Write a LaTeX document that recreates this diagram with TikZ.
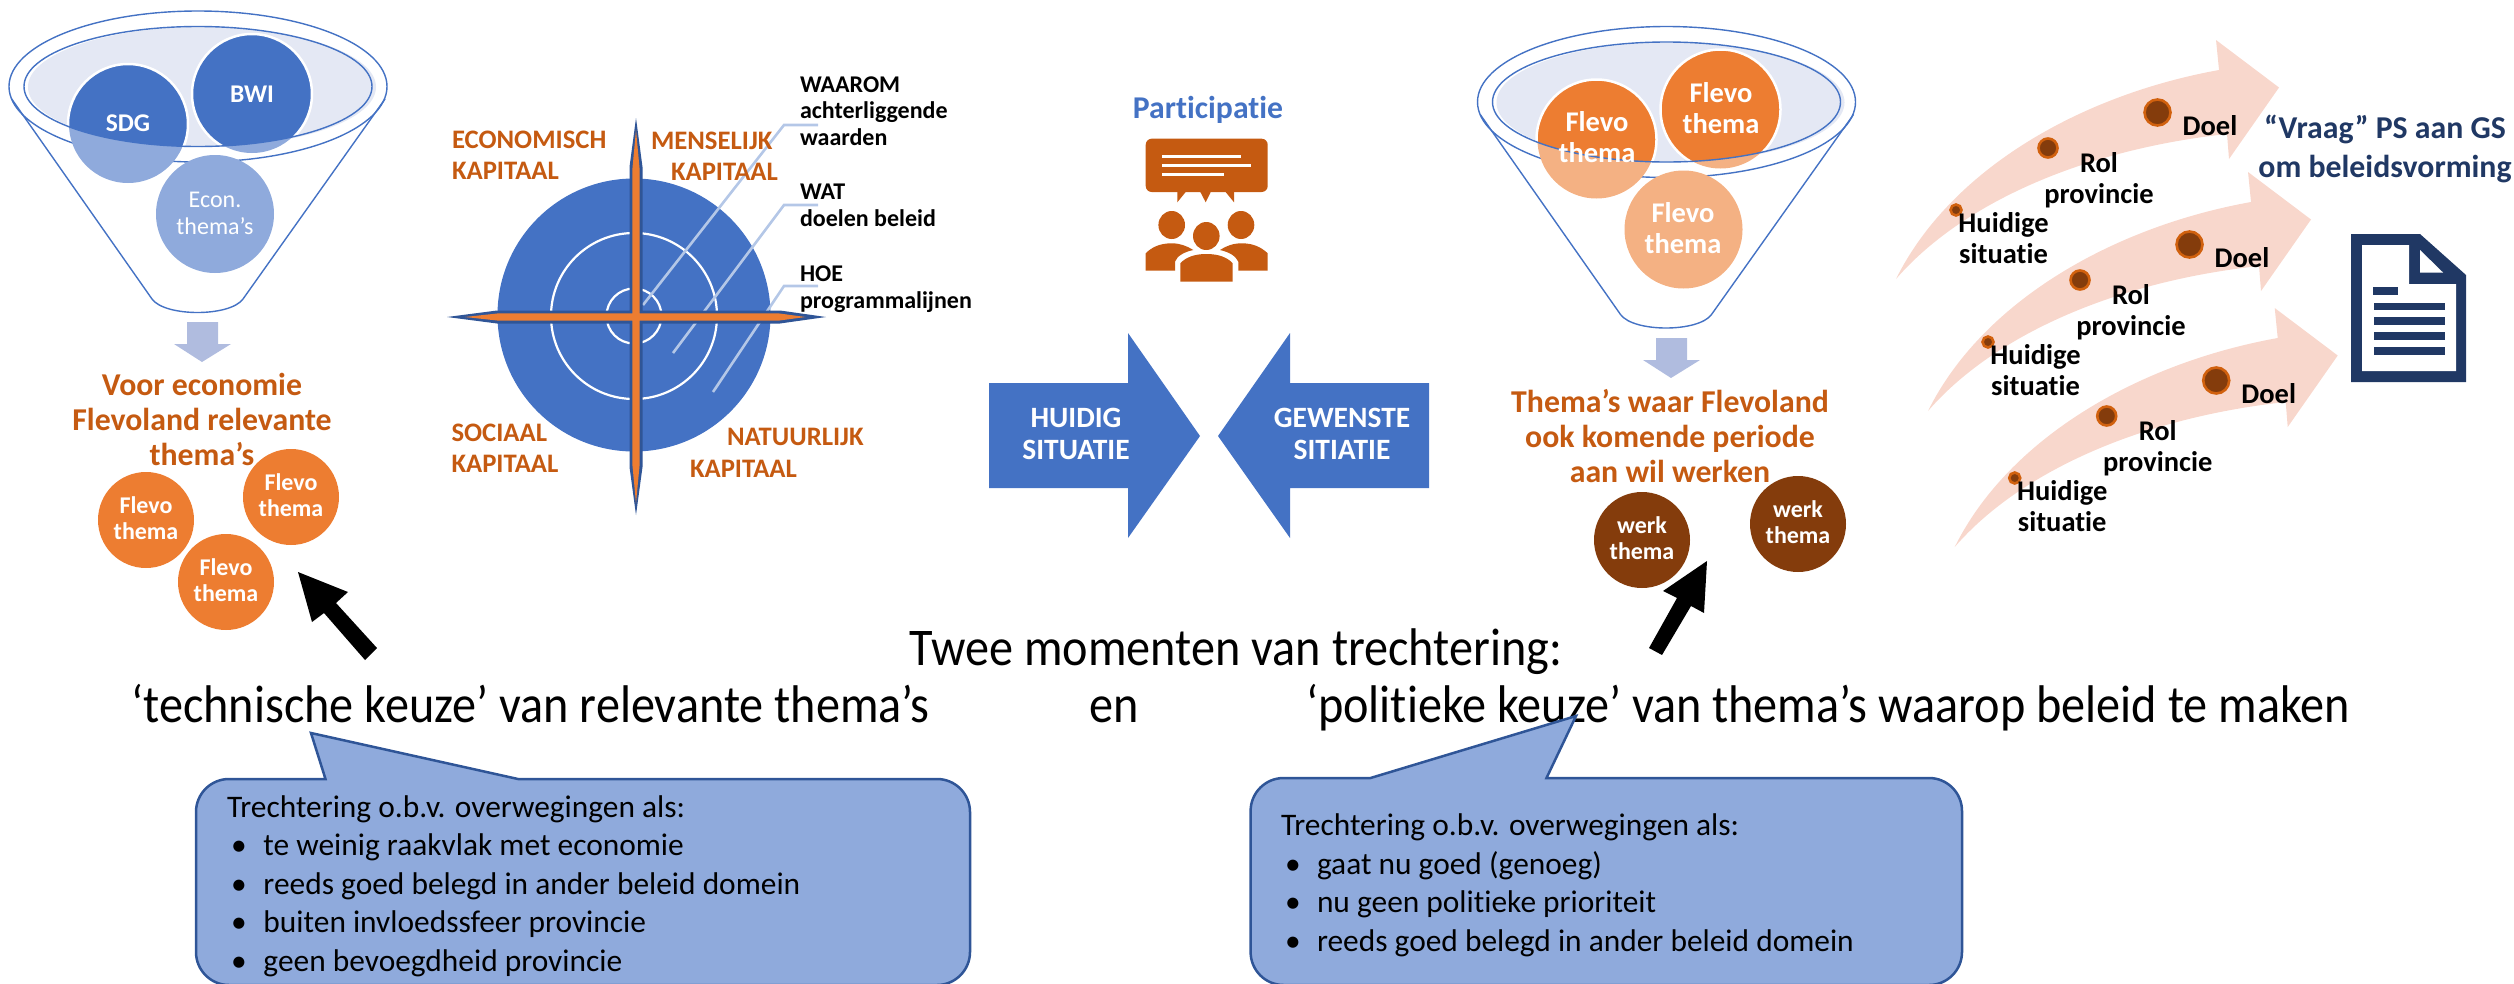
\documentclass[tikz,border=0pt]{standalone}
\usepackage{fontspec}
\setmainfont[Ligatures=CommonOff]{Carlito}
\newfontfamily\narrowfont[Ligatures=CommonOff,FakeStretch=0.91]{Carlito}
\definecolor{mblue}{HTML}{4472C4}
\definecolor{lblue}{HTML}{8FAADC}
\definecolor{pale}{HTML}{E4E8F4}
\definecolor{darrow}{HTML}{B0BCDF}
\definecolor{mor}{HTML}{ED7D31}
\definecolor{lor}{HTML}{F4B183}
\definecolor{rust}{HTML}{C55A11}
\definecolor{brown}{HTML}{843C0C}
\definecolor{edge}{HTML}{2F5597}
\definecolor{navy}{HTML}{203864}
\definecolor{lead}{HTML}{B4C7E7}
\definecolor{swoosh}{HTML}{F8D7CC}
\newcommand\fs[2]{\fontsize{#1pt}{#2pt}\selectfont}
\tikzset{
 txt/.style={inner sep=0pt,outer sep=0pt,anchor=base,align=center},
 ltxt/.style={inner sep=0pt,outer sep=0pt,anchor=base west,align=left},
 themalbl/.style={txt,text=white,font=\bfseries\fs{24}{25.5}},
 bigthema/.style={txt,text=white,font=\bfseries\fs{28.5}{31}},
 headlbl/.style={txt,text=rust,font=\bfseries\fs{31.8}{35}},
 caplbl/.style={ltxt,text=rust,font=\bfseries\fs{26.7}{31}},
 whylbl/.style={ltxt,font=\bfseries\fs{24}{26.5}},
 swlbl/.style={txt,font=\bfseries\fs{28.5}{31}},
 arrlbl/.style={txt,text=white,font=\bfseries\fs{29.5}{32}},
 biglbl/.style={txt,font=\narrowfont\fs{53}{60}},
 listlbl/.style={ltxt,font=\fs{31.4}{38.5}},
 orb/.style={circle,inner sep=0pt,minimum size=96pt},
 funnelline/.style={draw=mblue,line width=1.4pt},
 callout/.style={fill=lblue,draw=edge,line width=2.5pt},
 leadline/.style={draw=lead,line width=2.6pt},
 dot/.style={circle,inner sep=0pt,fill=brown,draw=rust!80!orange,line width=2.6pt}
}
\newcommand\funnelbody{%
  \draw[funnelline,fill=white] (198,86.5) ellipse [x radius=189pt,y radius=75.5pt];
  \draw[funnelline] (11.7,99) -- (152,299) .. controls (165,317) and (230,317) .. (243,299) -- (385,99);
  \fill[pale] (202,87) ellipse [x radius=174pt,y radius=60pt];
}
\newcommand\funnelrim{%
  \draw[funnelline] (198,86.5) ellipse [x radius=174pt,y radius=60pt];
}
\newcommand\balls[2]{%
  \fill[#2] (128,124) circle [radius=59pt];
  \fill[#2] (252,94) circle [radius=59pt];
  \fill[#2] (215,214) circle [radius=59pt];
  \begin{scope}
    \clip (198,86.5) ellipse [x radius=174pt,y radius=60pt];
    \fill[#1,draw=white,line width=2.5pt] (128,124) circle [radius=60pt];
    \fill[#1,draw=white,line width=2.5pt] (252,94) circle [radius=60pt];
  \end{scope}
}
\newcommand\swooshshape{%
  \fill[swoosh] (1896,279) .. controls (1950,170) and (2080,95) .. (2219,70)
     -- (2216,40) -- (2279,87.5) -- (2229,159) -- (2227,134)
     .. controls (2080,150) and (1960,205) .. (1896,279) -- cycle;
}
\newcommand\swooshitems[1]{%
  \node[dot,minimum size=26pt] (doel#1) at (2157.5,112.5) {};
  \node[dot,minimum size=19pt] (rol#1) at (2048,148) {};
  \node[dot,minimum size=11pt] (huid#1) at (1956,210) {};
  \node[swlbl] (doeltxt#1) at (2210,135) {Doel};
  \node[swlbl] (roltxt#1) at (2099,203) {Rol\\provincie};
  \node[swlbl] (huidtxt#1) at (2003.5,263.5) {Huidige\\situatie};
}
\begin{document}
\begin{tikzpicture}[x=1pt,y=-1pt]
\useasboundingbox (0,0) rectangle (2514,983);
% ---------- left funnel
\funnelbody
\balls{mblue}{lblue}
\funnelrim
\node[txt,text=white,font=\bfseries\fs{25.5}{28}] (sdg) at (128,131) {SDG};
\node[txt,text=white,font=\bfseries\fs{25.5}{28}] (bwi) at (252,102) {BWI};
\node[txt,text=white,font=\fs{24}{27}] (econ) at (215,234) {Econ.\\thema’s};
\fill[darrow] (187,322) -- (218,322) -- (218,344) -- (231,344) -- (202,362) -- (174,344) -- (187,344) -- cycle;
\node[headlbl] (kop1) at (202,465) {Voor economie\\Flevoland relevante\\thema’s};
\node[orb,fill=mor] (f1) at (146,520) {};
\node[orb,fill=mor] (f2) at (291,497) {};
\node[orb,fill=mor] (f3) at (226,582) {};
\node[themalbl] at (146,539) {Flevo\\thema};
\node[themalbl] at (291,516) {Flevo\\thema};
\node[themalbl] at (226,601) {Flevo\\thema};
\fill[black] (298,572) -- (348,592) -- (336,603) -- (377,648) -- (365,660) -- (324,613) -- (312,622) -- cycle;
% ---------- capitals
\fill[mblue] (634,315) circle [radius=136.5pt];
\draw[white,line width=2.2pt] (634,316) circle [radius=83pt];
\draw[white,line width=2.2pt] (634,316) circle [radius=27.5pt];
\draw[leadline] (818,125) -- (784,125) -- (643,305);
\draw[leadline] (818,205) -- (784,205) -- (673,353);
\draw[leadline] (818,286) -- (784,286) -- (713,392);
\fill[edge] (636,118) -- (642.5,167) -- (642.5,310.5) -- (780,310.5) -- (826,317) -- (780,323.5) -- (642.5,323.5) -- (642.5,467) -- (636,515) -- (629.5,467) -- (629.5,323.5) -- (497,323.5) -- (447,317) -- (497,310.5) -- (629.5,310.5) -- (629.5,167) -- cycle;
\fill[mor] (636,130) -- (639.7,170) -- (639.7,313.3) -- (778,313.3) -- (805.5,317) -- (778,320.7) -- (639.7,320.7) -- (639.7,464) -- (636,503) -- (632.3,464) -- (632.3,320.7) -- (499,320.7) -- (465,317) -- (499,313.3) -- (632.3,313.3) -- (632.3,170) -- cycle;
\node[caplbl] (ek) at (452,179) {ECONOMISCH\\KAPITAAL};
\node[caplbl] (mk1) at (651,149) {MENSELIJK};
\node[caplbl] (mk2) at (671,180) {KAPITAAL};
\node[caplbl] (sk) at (451.5,472) {SOCIAAL\\KAPITAAL};
\node[caplbl] (nk1) at (727,445) {NATUURLIJK};
\node[caplbl] (nk2) at (690,477) {KAPITAAL};
\node[whylbl] (waarom) at (800,145) {WAAROM\\achterliggende\\waarden};
\node[whylbl] (wat) at (800,226) {WAT\\doelen beleid};
\node[whylbl] (hoe) at (800,308) {HOE\\programmalijnen};
% ---------- participatie
\node[txt,text=mblue,font=\bfseries\fs{31.7}{36}] (part) at (1208,118) {Participatie};
\fill[rust,rounded corners=6pt] (1145.7,138.7) rectangle (1267.7,192);
\fill[rust] (1177.3,190) -- (1177.3,202.3) -- (1187.3,190) -- cycle;
\fill[rust] (1199.3,190) -- (1205.7,202.3) -- (1211.7,190) -- cycle;
\fill[rust] (1224,190) -- (1234,202.3) -- (1234,190) -- cycle;
\fill[white] (1162.3,154.7) rectangle (1241,158.3);
\fill[white] (1162.3,163.7) rectangle (1251,167.3);
\fill[white] (1162.3,172.7) rectangle (1224,176);
\fill[rust] (1171.7,225) ellipse [x radius=13.3pt,y radius=14pt];
\fill[rust] (1241,225) ellipse [x radius=13.3pt,y radius=14pt];
\fill[rust] (1206.3,236) ellipse [x radius=13.3pt,y radius=14pt];
\fill[rust] (1145.7,270.7) -- (1145.7,253.3) .. controls (1152,247) and (1160,243.3) .. (1171.7,243.3) .. controls (1180,243.3) and (1187,246) .. (1193.3,250) .. controls (1184,252) and (1177,256) .. (1175,261.7) -- (1175,270.7) -- cycle;
\fill[rust] (1267.7,270.7) -- (1267.7,253.3) .. controls (1261,247) and (1253,243.3) .. (1241.7,243.3) .. controls (1233,243.3) and (1226,246) .. (1220,250) .. controls (1229,252) and (1236,256) .. (1238.3,261.7) -- (1238.3,270.7) -- cycle;
\fill[rust] (1180.3,281.7) -- (1180.3,263.3) .. controls (1186,257) and (1195,254) .. (1206.3,254) .. controls (1218,254) and (1227,257) .. (1232.7,263.3) -- (1232.7,281.7) -- cycle;
% ---------- block arrows
\fill[mblue] (989,383) -- (1128,383) -- (1128,333) -- (1200,436) -- (1128,538) -- (1128,488) -- (989,488) -- cycle;
\fill[mblue] (1429,383) -- (1290,383) -- (1290,333) -- (1218,436) -- (1290,538) -- (1290,488) -- (1429,488) -- cycle;
\node[arrlbl] (hs) at (1076,459) {HUIDIG\\SITUATIE};
\node[arrlbl] (gs) at (1342,459) {GEWENSTE\\SITIATIE};
% ---------- right funnel
\begin{scope}[shift={(1468.5,15.5)}]
\funnelbody
\balls{mor}{lor}
\funnelrim
\end{scope}
\node[bigthema] (t1) at (1597,162) {Flevo\\thema};
\node[bigthema] (t2) at (1721,133) {Flevo\\thema};
\node[bigthema] (t3) at (1683,253) {Flevo\\thema};
\fill[darrow] (1656,338) -- (1687,338) -- (1687,360) -- (1700,360) -- (1671,378) -- (1643,360) -- (1656,360) -- cycle;
\node[headlbl] (kop2) at (1670,482) {Thema’s waar Flevoland\\ook komende periode\\aan wil werken};
\node[orb,fill=brown] (w1) at (1642,540) {};
\node[orb,fill=brown] (w2) at (1798,524) {};
\node[themalbl] at (1642,559) {werk\\thema};
\node[themalbl] at (1798,543) {werk\\thema};
\fill[black] (1707,561) -- (1704,613) -- (1691,606) -- (1662,655) -- (1649,648) -- (1677,598) -- (1663,591) -- cycle;
% ---------- swooshes
\swooshshape
\begin{scope}[shift={(32,132)}]\swooshshape\end{scope}
\begin{scope}[shift={(58.7,268)}]\swooshshape\end{scope}
\swooshitems{a}
\begin{scope}[shift={(32,132)}]\swooshitems{b}\end{scope}
\begin{scope}[shift={(58.7,268)}]\swooshitems{c}\end{scope}
\node[txt,text=navy,font=\bfseries\fs{31.8}{39}] (vraag) at (2385,177.5) {“Vraag” PS aan GS\\om beleidsvorming};
% ---------- document icon
\fill[navy] (2351,234) -- (2420,234) -- (2466,275) -- (2466,382) -- (2351,382) -- cycle;
\fill[white] (2362,245) -- (2409,245) -- (2409,284) -- (2456,284) -- (2456,371) -- (2362,371) -- cycle;
\fill[white] (2420,250) -- (2443,272.5) -- (2420,272.5) -- cycle;
\fill[navy] (2373,287) rectangle (2398,295);
\fill[navy] (2374,302.5) rectangle (2445,310);
\fill[navy] (2374,317) rectangle (2445,325);
\fill[navy] (2374,332) rectangle (2445,340);
\fill[navy] (2374,347) rectangle (2445,355);
% ---------- captions
\node[biglbl] (twee) at (1236,665) {Twee momenten van trechtering:};
\node[biglbl,anchor=base west] (tech) at (131.5,722) {‘technische keuze’ van relevante thema’s};
\node[biglbl] (en) at (1114,722) {en};
\node[biglbl,anchor=base west] (pol) at (1306,722) {‘politieke keuze’ van thema’s waarop beleid te maken};
% ---------- callouts
\draw[callout] (325.5,779) -- (311,733) -- (518,779) [rounded corners=33pt] -- (970,779) -- (970,985) -- (196,985) -- (196,779) [sharp corners] -- cycle;
\node[listlbl] (lijst1) at (227,971) {Trechtering o.b.v. overwegingen als:\\
\hspace*{4pt}\makebox[32.5pt][l]{•}te weinig raakvlak met economie\\
\hspace*{4pt}\makebox[32.5pt][l]{•}reeds goed belegd in ander beleid domein\\
\hspace*{4pt}\makebox[32.5pt][l]{•}buiten invloedssfeer provincie\\
\hspace*{4pt}\makebox[32.5pt][l]{•}geen bevoegdheid provincie};
\draw[callout] (1546.5,778) -- (1576,716) -- (1370.5,778) [rounded corners=33pt] -- (1250.6,778) -- (1250.6,985) -- (1962,985) -- (1962,778) [sharp corners] -- cycle;
\node[listlbl] (lijst2) at (1281,951) {Trechtering o.b.v. overwegingen als:\\
\hspace*{4pt}\makebox[32pt][l]{•}gaat nu goed (genoeg)\\
\hspace*{4pt}\makebox[32pt][l]{•}nu geen politieke prioriteit\\
\hspace*{4pt}\makebox[32pt][l]{•}reeds goed belegd in ander beleid domein};
\end{tikzpicture}
\end{document}
